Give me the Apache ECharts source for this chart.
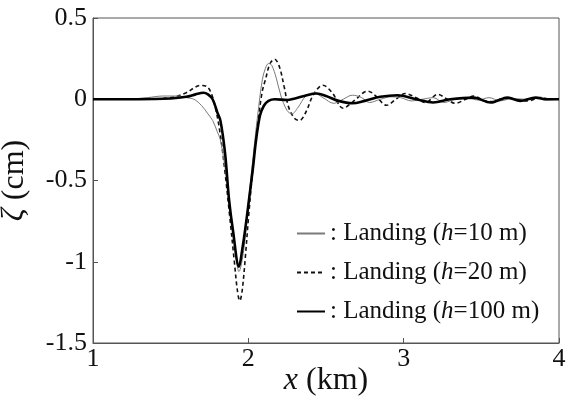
<!DOCTYPE html>
<html>
<head>
<meta charset="utf-8">
<script src="https://cdn.jsdelivr.net/npm/echarts@6/dist/echarts.min.js"></script>
<style>html,body{margin:0;padding:0;background:#fff}#c{width:572px;height:399px}</style>
</head>
<body>
<div id="c"></div>
<script>
const xTicks = [1, 2, 3, 4];
const yTicks = [-1.5, -1, -0.5, 0, 0.5];
const seriesNames = ['h=10 m', 'h=20 m', 'h=100 m'];

const x10 = [1.0, 1.2, 1.35, 1.45, 1.55, 1.6, 1.65, 1.7, 1.74, 1.77, 1.8, 1.82, 1.85, 1.88, 1.91, 1.94, 1.97, 2.0, 2.03, 2.06, 2.09, 2.11, 2.13, 2.15, 2.18, 2.21, 2.25, 2.28, 2.32, 2.37, 2.42, 2.48, 2.55, 2.61, 2.67, 2.73, 2.78, 2.85, 2.92, 2.98, 3.05, 3.12, 3.19, 3.26, 3.33, 3.4, 3.48, 3.55, 3.62, 3.7, 3.78, 3.85, 3.92, 4.0];
const y10 = [0.0, 0.0, 0.01, 0.02, 0.02, 0.01, 0.0, -0.04, -0.09, -0.13, -0.2, -0.25, -0.42, -0.65, -0.88, -1.06, -0.93, -0.64, -0.36, -0.1, 0.12, 0.19, 0.22, 0.21, 0.13, 0.02, -0.07, -0.09, -0.05, 0.02, 0.04, 0.01, -0.025, 0.0, 0.025, 0.01, -0.02, 0.0, 0.015, 0.01, -0.01, 0.0, 0.01, -0.02, 0.0, 0.01, -0.005, 0.01, -0.01, 0.005, 0.0, 0.01, -0.005, 0.0];

const x20 = [1.0, 1.3, 1.5, 1.6, 1.65, 1.69, 1.73, 1.76, 1.79, 1.82, 1.85, 1.88, 1.91, 1.93, 1.945, 1.96, 1.98, 2.0, 2.03, 2.06, 2.09, 2.11, 2.14, 2.17, 2.2, 2.23, 2.26, 2.3, 2.33, 2.37, 2.42, 2.48, 2.54, 2.61, 2.68, 2.74, 2.77, 2.82, 2.89, 2.95, 3.01, 3.08, 3.14, 3.22, 3.28, 3.33, 3.4, 3.45, 3.52, 3.58, 3.65, 3.72, 3.8, 3.88, 3.95, 4.0];
const y20 = [0.0, 0.0, 0.01, 0.04, 0.07, 0.085, 0.08, 0.04, -0.06, -0.22, -0.45, -0.72, -1.0, -1.18, -1.24, -1.18, -0.98, -0.74, -0.42, -0.15, 0.05, 0.12, 0.22, 0.246, 0.2, 0.08, -0.05, -0.12, -0.13, -0.08, 0.03, 0.086, 0.04, -0.055, -0.01, 0.04, 0.05, 0.02, -0.037, 0.0, 0.035, 0.01, -0.02, 0.03, 0.0, -0.025, 0.0, 0.02, -0.01, -0.015, 0.01, 0.0, -0.01, 0.01, 0.0, 0.0];

const x100 = [1.0, 1.3, 1.5, 1.6, 1.66, 1.71, 1.74, 1.77, 1.8, 1.82, 1.85, 1.876, 1.9, 1.94, 1.96, 1.98, 2.004, 2.03, 2.05, 2.075, 2.1, 2.13, 2.17, 2.25, 2.3, 2.36, 2.44, 2.5, 2.58, 2.67, 2.75, 2.85, 2.96, 3.08, 3.19, 3.3, 3.45, 3.56, 3.67, 3.75, 3.85, 3.92, 4.0];
const y100 = [0.0, 0.0, 0.005, 0.015, 0.03, 0.04, 0.03, 0.0, -0.08, -0.13, -0.33, -0.62, -0.8, -1.03, -0.93, -0.8, -0.62, -0.42, -0.25, -0.1, -0.04, -0.01, 0.0, -0.005, 0.005, 0.02, 0.035, 0.02, -0.01, -0.025, -0.01, 0.015, 0.025, 0.0, -0.02, 0.0, 0.01, -0.02, 0.01, -0.01, 0.01, 0.0, 0.0];

const pair = (xs, ys) => xs.map((x, i) => [x, ys[i]]);
const FONT = '"Liberation Serif", "Times New Roman", Times, serif';

const chart = echarts.init(document.getElementById('c'), null, {renderer: 'canvas'});
const axisColor = '#555';
chart.setOption({
  animation: false,
  backgroundColor: '#fff',
  grid: {left: 93, right: 13, top: 18, bottom: 56, containLabel: false, outerBoundsMode: 'none',
         show: true, borderColor: axisColor, borderWidth: 1, backgroundColor: 'transparent'},
  xAxis: {
    type: 'value', min: xTicks[0], max: xTicks[xTicks.length - 1], interval: 1,
    name: '{i|x} (km)', nameLocation: 'middle', nameGap: 22, nameMoveOverlap: false,
    nameTextStyle: {fontFamily: FONT, fontSize: 32, color: '#111', rich: {i: {fontFamily: FONT, fontStyle: 'italic', fontSize: 32, color: '#111'}}},
    axisLine: {onZero: false, lineStyle: {color: axisColor, width: 1}},
    axisTick: {inside: true, length: 5, lineStyle: {color: axisColor}},
    axisLabel: {fontFamily: FONT, fontSize: 26, color: '#111', margin: 3},
    splitLine: {show: false}
  },
  yAxis: {
    type: 'value', min: yTicks[0], max: yTicks[yTicks.length - 1], interval: 0.5,
    name: '{i|ζ} (cm)', nameLocation: 'middle', nameGap: 62, nameMoveOverlap: false,
    nameTextStyle: {fontFamily: FONT, fontSize: 32, color: '#111', rich: {i: {fontFamily: FONT, fontStyle: 'italic', fontSize: 32, color: '#111'}}},
    axisLine: {show: true, onZero: false, lineStyle: {color: axisColor, width: 1}},
    axisTick: {show: true, inside: true, length: 5, lineStyle: {color: axisColor}},
    axisLabel: {fontFamily: FONT, fontSize: 26, color: '#111', margin: 6},
    splitLine: {show: false}
  },
  legend: {
    orient: 'vertical', left: 291, top: 215, itemWidth: 28, itemHeight: 14, itemGap: 12,
    itemStyle: {opacity: 0},
    textStyle: {fontFamily: FONT, fontSize: 25, color: '#111', lineHeight: 27,
      rich: {i: {fontFamily: FONT, fontStyle: 'italic', fontSize: 25, color: '#111'}}},
    formatter: function (name) {
      const parts = name.split('=');
      return ': Landing ({i|' + parts[0] + '}=' + parts[1] + ')';
    },
    data: seriesNames
  },
  series: [
    {name: seriesNames[0], type: 'line', data: pair(x10, y10), smooth: 0.35, symbol: 'none', z: 3,
     lineStyle: {color: '#7a7a7a', width: 1}, itemStyle: {color: '#7a7a7a'}},
    {name: seriesNames[1], type: 'line', data: pair(x20, y20), smooth: 0.35, symbol: 'none', z: 2,
     lineStyle: {color: '#111', width: 1.6, type: [4, 3]}, itemStyle: {color: '#111'}},
    {name: seriesNames[2], type: 'line', data: pair(x100, y100), smooth: 0.35, symbol: 'none', z: 4,
     lineStyle: {color: '#000', width: 2.6}, itemStyle: {color: '#000'}}
  ]
});
</script>
</body>
</html>
